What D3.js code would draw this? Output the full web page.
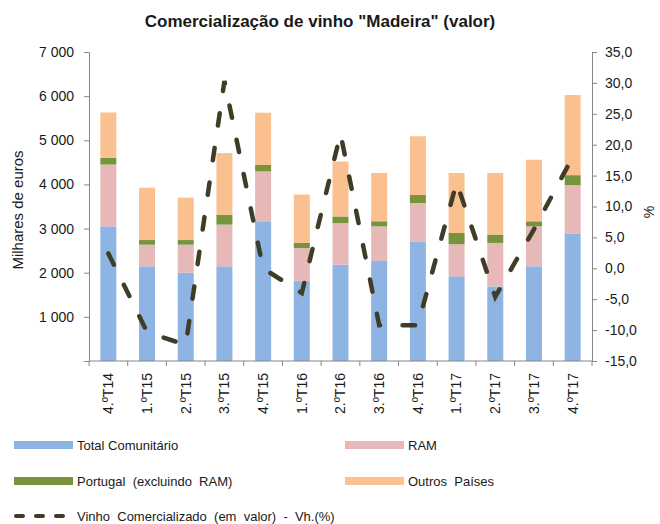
<!DOCTYPE html>
<html><head><meta charset="utf-8">
<script src="https://cdn.jsdelivr.net/npm/d3@7"></script>
<style>
body{margin:0;background:#fff;}
text{font-family:"Liberation Sans",Arial,sans-serif;fill:#1a1a1a;}
</style></head>
<body><svg id="chart" width="660" height="524"></svg>
<script>
const categories = ["4.ºT14","1.ºT15","2.ºT15","3.ºT15","4.ºT15","1.ºT16","2.ºT16","3.ºT16","4.ºT16","1.ºT17","2.ºT17","3.ºT17","4.ºT17"];
const totalComunitario = [3050,2145,2000,2145,3165,1810,2180,2265,2710,1920,1690,2145,2890];
const ram              = [1400, 490, 635, 945,1130, 750, 945, 785, 870, 725, 985, 905,1095];
const portugal         = [ 150, 105, 105, 225, 145, 115, 150, 115, 180, 255, 190, 115, 225];
const outrosPaises     = [1030,1185, 960,1395,1185,1095,1245,1095,1330,1360,1395,1395,1815];
const vhPercent        = [2.4,-10.3,-12.4,30.3,0.0,-4.0,21.8,-9.2,-9.2,13.9,-4.6,6.3,18.0];
const leftTicks  = [0,1000,2000,3000,4000,5000,6000,7000];
const rightTicks = [-15,-10,-5,0,5,10,15,20,25,30,35];

const seriesNames = ["Total Comunitário","RAM","Portugal  (excluindo  RAM)","Outros  Países"];
const seriesKeys = ["tc","ram","pt","out"];
const colors = {tc:"#8DB4E2", ram:"#E6B9B8", pt:"#77933C", out:"#FAC090"};
const lineColor = "#403D27";
const axisColor = "#868686";

const rows = categories.map((c,i)=>({cat:c, tc:totalComunitario[i], ram:ram[i], pt:portugal[i], out:outrosPaises[i]}));

const svg = d3.select("#chart");
const plotLeft = 89, plotRight = 592, plotTop = 52, plotBottom = 361;

const x = d3.scaleBand().domain(categories).range([plotLeft,plotRight]).paddingInner(0).paddingOuter(0);
const yL = d3.scaleLinear().domain([0,7000]).range([plotBottom,plotTop]);
const yR = d3.scaleLinear().domain([-15,35]).range([plotBottom,plotTop]);
const barW = 16;

// title
svg.append("text").attr("x",320).attr("y",27).attr("text-anchor","middle")
  .style("font-size","17px").style("font-weight","bold").text('Comercialização de vinho "Madeira" (valor)');

// bars
const stack = d3.stack().keys(seriesKeys)(rows);
svg.append("g").selectAll("g").data(stack).join("g")
  .attr("fill",d=>colors[d.key])
  .selectAll("rect").data(d=>d).join("rect")
  .attr("x",d=>x(d.data.cat)+x.bandwidth()/2-barW/2)
  .attr("width",barW)
  .attr("y",d=>yL(d[1]))
  .attr("height",d=>yL(d[0])-yL(d[1]));

// left axis
const la = svg.append("g").attr("transform",`translate(${plotLeft},0)`)
  .call(d3.axisLeft(yL).tickValues(leftTicks).tickSize(5).tickSizeOuter(0).tickPadding(10)
    .tickFormat(d=> d===0 ? "" : d3.format(",")(d).replace(","," ")));
// right axis
const ra = svg.append("g").attr("transform",`translate(${plotRight},0)`)
  .call(d3.axisRight(yR).tickValues(rightTicks).tickSize(5).tickSizeOuter(0).tickPadding(8)
    .tickFormat(d=> d.toFixed(1).replace(".",",")));
[la,ra].forEach(g=>{
  g.selectAll("path,line").attr("stroke",axisColor);
  g.selectAll("text").style("font-size","14px").attr("fill","#1a1a1a").style("font-family","Liberation Sans, Arial, sans-serif");
});

// x axis
const xa = svg.append("g").attr("transform",`translate(0,${plotBottom})`);
xa.append("line").attr("x1",plotLeft).attr("x2",plotRight).attr("stroke",axisColor);
xa.selectAll("line.tk").data(categories.concat(["_end"])).join("line").attr("class","tk")
  .attr("x1",(d,i)=> plotLeft + i*x.step()).attr("x2",(d,i)=> plotLeft + i*x.step())
  .attr("y1",0).attr("y2",5).attr("stroke",axisColor);
xa.selectAll("text").data(categories).join("text")
  .attr("transform",d=>`translate(${x(d)+x.bandwidth()/2},12) rotate(-90)`)
  .attr("text-anchor","end").attr("dy","0.35em").style("font-size","14px").text(d=>d);

// axis titles
svg.append("text").attr("transform","translate(18,210) rotate(-90)").attr("text-anchor","middle")
  .attr("dy","0.35em").style("font-size","15px").text("Milhares de euros");
svg.append("text").attr("transform","translate(649,212) rotate(-90)").attr("text-anchor","middle")
  .attr("dy","0.35em").style("font-size","14px").text("%");

// line
const line = d3.line().x((d,i)=>x(categories[i])+x.bandwidth()/2).y(d=>yR(d));
svg.append("path").datum(vhPercent).attr("d",line).attr("fill","none")
  .attr("stroke",lineColor).attr("stroke-width",4.5).attr("stroke-linecap","round")
  .attr("stroke-dasharray","12.5,22.5");

// legend
const legendItems = [
  {name:seriesNames[0], key:"tc", x:14, y:445},
  {name:seriesNames[1], key:"ram", x:345, y:445},
  {name:seriesNames[2], key:"pt", x:14, y:481},
  {name:seriesNames[3], key:"out", x:345, y:481}
];
const lg = svg.append("g");
legendItems.forEach(it=>{
  lg.append("rect").attr("x",it.x).attr("y",it.y-4).attr("width",59).attr("height",8).attr("fill",colors[it.key]);
  lg.append("text").attr("x",it.x+63).attr("y",it.y+5).style("font-size","13px").style("white-space","pre")
    .attr("xml:space","preserve").text(it.name);
});
lg.append("line").attr("x1",16).attr("x2",71).attr("y1",516).attr("y2",516)
  .attr("stroke",lineColor).attr("stroke-width",4).attr("stroke-linecap","round").attr("stroke-dasharray","7,13");
lg.append("text").attr("x",77).attr("y",521).style("font-size","13px").style("white-space","pre")
  .attr("xml:space","preserve").text("Vinho  Comercializado  (em  valor)  -  Vh.(%)");
</script>
</body></html>
